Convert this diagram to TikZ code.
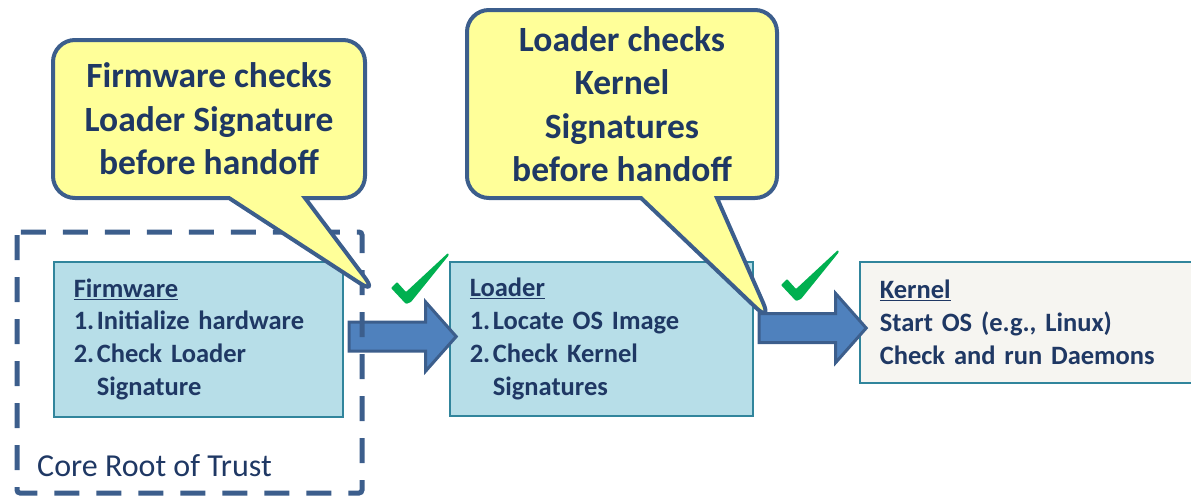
\documentclass[tikz,border=0pt]{standalone}
\usepackage{fontspec}
\setmainfont{Carlito}
\usetikzlibrary{shapes.arrows,shapes.callouts,calc}
\definecolor{txt}{HTML}{1F3864}
\definecolor{edge}{HTML}{3C5E8C}
\definecolor{boxfill}{HTML}{B7DEE8}
\definecolor{boxedge}{HTML}{31859C}
\definecolor{kfill}{HTML}{F6F5F1}
\definecolor{arrfill}{HTML}{4F81BD}
\definecolor{yell}{HTML}{FFFF99}
\definecolor{chkgreen}{HTML}{00B050}
\tikzset{
  stagebox/.style={draw=boxedge, line width=1.6pt, fill=boxfill, text=txt,
    font=\fontsize{26.5}{32.8}\selectfont\bfseries, align=left, inner xsep=20pt, inner ysep=0pt},
  bigarrow/.style={single arrow, draw=edge, line width=3pt, fill=arrfill, inner xsep=0pt, inner ysep=0pt,
    text height=13pt, text depth=13pt, single arrow head extend=20pt, single arrow tip angle=97, minimum height=107pt},
  balloon/.style={rectangle callout, draw=edge, line width=4pt, fill=yell, text=txt, rounded corners=22pt,
    font=\fontsize{35.5}{43.5}\selectfont\bfseries, align=center, callout pointer width=76pt},
  chk/.pic={\fill[chkgreen, rounded corners=1pt] (-14,-15) -- (-8,-21) -- (1,-11) -- (43,-50) -- (44,-48) -- (6,-1) -- (1,1) -- cycle;}
}
\newcommand{\numitem}[1]{\makebox[23pt][l]{#1}}
\begin{document}
\begin{tikzpicture}[x=1pt,y=-1pt]
\useasboundingbox (0,0) rectangle (1191,496);
% stage boxes
\node[stagebox, text width=249pt, minimum height=155pt, anchor=north west] (fw) at (53,261)
  {\underline{Firmware}\\ \numitem{1.}Initialize hardware\\ \numitem{2.}Check Loader\\ \hspace*{23pt}Signature};
\node[stagebox, text width=263pt, minimum height=154pt, anchor=north west] (ld) at (449,261)
  {\underline{Loader}\\ \numitem{1.}Locate OS Image\\ \numitem{2.}Check Kernel\\ \hspace*{23pt}Signatures};
\node[stagebox, fill=kfill, text width=300pt, minimum height=121pt, anchor=north west] (kn) at (859,261)
  {\underline{Kernel}\\ Start OS (e.g., Linux)\\ Check and run Daemons};
% arrows
\node[bigarrow] (a1) at ($(fw.east)!.5!(ld.west)+(0,-2.5)$) {};
\node[bigarrow] (a2) at ($(ld.east)!.5!(kn.west)+(0,-2.5)$) {};
% core root of trust
\draw[edge, line width=5pt, dash pattern=on 25pt off 17pt, rounded corners=3pt] (17,232) rectangle (362,493);
\node[anchor=base west, text=txt, font=\fontsize{32}{36}\selectfont, inner sep=0pt] (crt) at (37,476) {Core Root of Trust};
% callouts
\node[balloon, minimum width=312pt, minimum height=158pt, callout absolute pointer={(378,295)}] (c1) at (209,119)
  {Firmware checks\\Loader Signature\\before handoff};
\node[balloon, minimum width=310pt, minimum height=188pt, callout absolute pointer={(772,323)}] (c2) at (622,104)
  {Loader checks\\Kernel\\Signatures\\before handoff};
% check marks
\pic at (405,303) {chk};
\pic at (795,300) {chk};
\end{tikzpicture}
\end{document}
